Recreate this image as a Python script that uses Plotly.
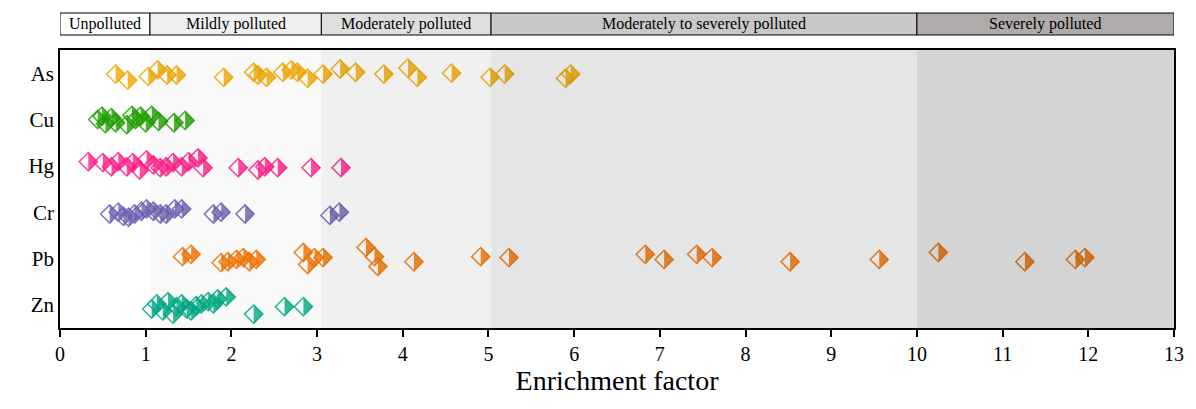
import plotly.graph_objects as go

elements = ["As", "Cu", "Hg", "Cr", "Pb", "Zn"]
colors = ["#f2a900", "#22a000", "#ff1f8a", "#6e60b2", "#f57300", "#00ad86"]

as_ef = [0.65, 0.79, 1.03, 1.14, 1.25, 1.36, 1.91, 2.26, 2.31, 2.41, 2.60, 2.70, 2.77, 2.89,
         3.07, 3.27, 3.45, 3.78, 4.06, 4.17, 4.57, 5.02, 5.19, 5.90, 5.96]
as_jit = [0.02, 0.15, 0.07, -0.07, 0.04, 0.04, 0.09, -0.02, 0.04, 0.09, -0.02, -0.07, -0.02, 0.11,
          0.02, -0.09, -0.02, 0.02, -0.11, 0.09, 0.0, 0.09, 0.02, 0.11, 0.02]

cu_ef = [0.44, 0.49, 0.53, 0.60, 0.65, 0.78, 0.84, 0.88, 0.94, 1.00, 1.07, 1.15, 1.33, 1.46]
cu_jit = [0.0, -0.07, 0.09, -0.04, 0.07, 0.11, -0.09, 0.0, -0.07, 0.07, -0.09, 0.04, 0.07, 0.02]

hg_ef = [0.33, 0.50, 0.60, 0.68, 0.78, 0.85, 0.93, 1.01, 1.09, 1.17, 1.24, 1.32, 1.42, 1.50,
         1.61, 1.67, 2.08, 2.31, 2.39, 2.54, 2.93, 3.28]
hg_jit = [-0.09, -0.07, 0.02, -0.09, 0.02, -0.07, 0.09, -0.13, -0.02, 0.04, 0.02, -0.07, 0.02,
          -0.09, -0.17, 0.04, 0.04, 0.09, 0.02, 0.04, 0.04, 0.04]

cr_ef = [0.58, 0.68, 0.74, 0.80, 0.87, 0.95, 1.01, 1.09, 1.17, 1.24, 1.34, 1.42, 1.79, 1.88,
         2.16, 3.15, 3.26]
cr_jit = [0.04, 0.0, 0.09, 0.11, 0.04, -0.02, -0.07, -0.02, 0.04, 0.04, -0.07, -0.07, 0.04, 0.0,
          0.04, 0.07, 0.0]

pb_ef = [1.43, 1.53, 1.88, 1.96, 2.06, 2.14, 2.21, 2.29, 2.84, 2.89, 2.97, 3.07, 3.57, 3.67,
         3.71, 4.13, 4.91, 5.24, 6.83, 7.05, 7.43, 7.61, 8.52, 9.56, 10.25, 11.26, 11.85, 11.96]
pb_jit = [-0.04, -0.09, 0.09, 0.07, 0.02, -0.02, 0.07, 0.02, -0.13, 0.13, -0.02, -0.02, -0.24,
          -0.04, 0.17, 0.07, -0.04, -0.02, -0.09, 0.02, -0.09, -0.02, 0.07, 0.02, -0.13, 0.07,
          0.02, -0.02]

zn_ef = [1.07, 1.13, 1.20, 1.26, 1.32, 1.36, 1.42, 1.48, 1.53, 1.59, 1.65, 1.73, 1.79, 1.84,
         1.94, 2.26, 2.62, 2.84]
zn_jit = [0.09, -0.02, 0.13, -0.07, 0.2, 0.04, -0.02, 0.09, 0.13, 0.02, -0.02, -0.07, -0.02,
          -0.13, -0.17, 0.2, 0.04, 0.04]

ef_values = [as_ef, cu_ef, hg_ef, cr_ef, pb_ef, zn_ef]
jitters = [as_jit, cu_jit, hg_jit, cr_jit, pb_jit, zn_jit]

class_names = ["Unpolluted", "Mildly polluted", "Moderately polluted",
               "Moderately to severely polluted", "Severely polluted"]
class_bounds = [0, 1.05, 3.05, 5.03, 10, 13]
band_colors = ["#ffffff", "#f0f0f0", "#dedede", "#c8c8c8", "#b0abab"]
zone_alpha = [0.0, 0.025, 0.06, 0.1, 0.17]

FONT = "Liberation Serif"
W, H = 1196, 409
ML, MR, MT, MB = 60, 20, 50, 81
PX_PER_ROW = (H - MT - MB) / 6.0

# marker geometry: open diamond outline + right half filled
DSIZE = 14
RD = 1.3 * DSIZE / 2                 # half diagonal of plotly diamond
TSIZE = 2 * RD / (0.9 * 2 ** 0.5)    # triangle-se rotated -45 -> half diamond
T_R = TSIZE / 2
STANDOFF = 0.6 * T_R                 # shifts base onto the diamond's vertical axis
Y_COMP = (0.6 * T_R / 2 ** 0.5) / PX_PER_ROW  # cancel the vertical part of the standoff

fig = go.Figure()
for i, (el, col) in enumerate(zip(elements, colors)):
    ys = [i + j for j in jitters[i]]
    xs = ef_values[i]
    fig.add_trace(go.Scatter(
        x=xs, y=[y - Y_COMP for y in ys], mode="markers", showlegend=False, hoverinfo="skip",
        marker=dict(symbol="triangle-se", angle=-45, standoff=STANDOFF, size=TSIZE,
                    color=col, opacity=0.8, line=dict(width=0)),
    ))
    fig.add_trace(go.Scatter(
        x=xs, y=ys, mode="markers", name=el, showlegend=False,
        marker=dict(symbol="diamond-open", size=DSIZE, color=col, opacity=0.85,
                    line=dict(width=1.5, color=col)),
    ))

shapes = []
annotations = []
for k in range(5):
    x0, x1 = class_bounds[k], class_bounds[k + 1]
    if zone_alpha[k] > 0:
        shapes.append(dict(type="rect", xref="x", yref="paper", x0=x0, x1=x1, y0=0, y1=1,
                           fillcolor="rgba(0,0,0,%g)" % zone_alpha[k], line=dict(width=0),
                           layer="above"))
    shapes.append(dict(type="rect", xref="x", yref="paper", x0=x0, x1=x1, y0=1.054, y1=1.133,
                       fillcolor=band_colors[k], line=dict(width=1, color="black"),
                       layer="above"))
    annotations.append(dict(x=(x0 + x1) / 2, y=1.0935, xref="x", yref="paper",
                            text=class_names[k], showarrow=False,
                            font=dict(family=FONT, size=16, color="black"),
                            xanchor="center", yanchor="middle"))

fig.update_layout(
    width=W, height=H,
    margin=dict(l=ML, r=MR, t=MT, b=MB),
    paper_bgcolor="white", plot_bgcolor="white",
    shapes=shapes, annotations=annotations,
    font=dict(family=FONT, color="black"),
)
fig.update_xaxes(
    range=[0, 13], dtick=1, tick0=0, ticks="outside", ticklen=7, tickwidth=1.5,
    tickcolor="black", showline=True, linecolor="black", linewidth=1.5, mirror=True,
    showgrid=False, zeroline=False, tickfont=dict(family=FONT, size=20, color="black"),
    title=dict(text="Enrichment factor", font=dict(family=FONT, size=28, color="black"), standoff=6),
)
fig.update_yaxes(
    range=[5.5, -0.5], tickvals=list(range(6)), ticktext=elements, ticks="",
    showline=True, linecolor="black", linewidth=1.5, mirror=True,
    showgrid=False, zeroline=False, tickfont=dict(family=FONT, size=21, color="black"),
)

fig.write_html("out.html")
